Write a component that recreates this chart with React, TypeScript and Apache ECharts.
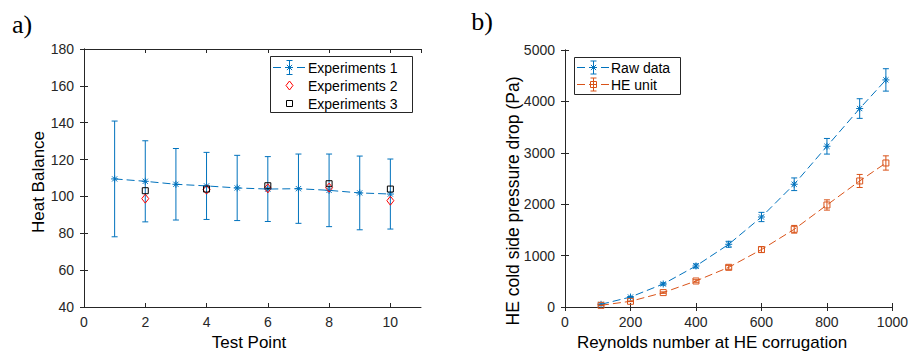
import React, { useEffect, useRef } from "react";
import * as echarts from "echarts";

// ---- Panel a) data ----
const testPoints = [1, 2, 3, 4, 5, 6, 7, 8, 9, 10];
const exp1Values = [109.5, 108.2, 106.6, 105.7, 104.6, 104.0, 104.2, 103.3, 101.9, 101.3];
const exp1Errors = [31.4, 22.0, 19.4, 18.2, 17.7, 17.6, 18.8, 19.7, 20.0, 19.0];
const exp23Points = [2, 4, 6, 8, 10];
const exp2Values = [98.8, 103.7, 104.4, 104.8, 97.7];
const exp3Values = [103.1, 104.0, 105.8, 106.9, 104.0];

// ---- Panel b) data ----
const reynolds = [110, 200, 300, 400, 500, 600, 700, 800, 900, 980];
const rawValues = [52, 194, 448, 798, 1220, 1751, 2388, 3127, 3861, 4418];
const rawErrors = [3, 10, 22, 40, 58, 90, 123, 152, 191, 218];
const heValues = [33, 111, 280, 506, 772, 1117, 1512, 1985, 2452, 2802];
const heErrors = [2, 6, 14, 25, 38, 55, 75, 100, 127, 139];

const BLUE = "#0072BD";
const ORANGE = "#D95319";
const AX = "#262626";
const SANS = "'Liberation Sans', Arial, Helvetica, sans-serif";
const SERIF = "'Liberation Serif', 'DejaVu Serif', serif";
const DASH = [8, 4];

function markerEls(kind: string, cx: number, cy: number, color: string): any[] {
  const st = { stroke: color, lineWidth: 1, fill: "none" };
  if (kind === "asterisk") {
    const r = 3.5;
    const d = 2.6;
    return [
      { type: "line", shape: { x1: cx - r, y1: cy, x2: cx + r, y2: cy }, style: st },
      { type: "line", shape: { x1: cx, y1: cy - r, x2: cx, y2: cy + r }, style: st },
      { type: "line", shape: { x1: cx - d, y1: cy - d, x2: cx + d, y2: cy + d }, style: st },
      { type: "line", shape: { x1: cx - d, y1: cy + d, x2: cx + d, y2: cy - d }, style: st },
    ];
  }
  if (kind === "square") {
    return [{ type: "rect", shape: { x: cx - 3, y: cy - 3, width: 6, height: 6 }, style: st }];
  }
  if (kind === "diamond") {
    return [
      {
        type: "polygon",
        shape: { points: [[cx, cy - 4.5], [cx + 3.5, cy], [cx, cy + 4.5], [cx - 3.5, cy]] },
        style: st,
      },
    ];
  }
  return [];
}

function errBarEls(cx: number, yt: number, yb: number, color: string, hw: number): any[] {
  const st = { stroke: color, lineWidth: 1 };
  return [
    { type: "line", shape: { x1: cx, y1: yt, x2: cx, y2: yb }, style: st },
    { type: "line", shape: { x1: cx - hw, y1: yt, x2: cx + hw, y2: yt }, style: st },
    { type: "line", shape: { x1: cx - hw, y1: yb, x2: cx + hw, y2: yb }, style: st },
  ];
}

function errRender(color: string, marker: string) {
  return (params: any, api: any) => {
    const x = api.value(0);
    const y = api.value(1);
    const e = api.value(2);
    const c = api.coord([x, y]);
    const t = api.coord([x, y + e]);
    const b = api.coord([x, y - e]);
    return {
      type: "group",
      children: [...errBarEls(c[0], t[1], b[1], color, 3), ...markerEls(marker, c[0], c[1], color)],
    };
  };
}

function markerRender(color: string, marker: string) {
  return (params: any, api: any) => {
    const c = api.coord([api.value(0), api.value(1)]);
    return { type: "group", children: markerEls(marker, c[0], c[1], color) };
  };
}

const axisLine = { show: true, lineStyle: { color: AX, width: 1 } };
const axisTick = { show: true, inside: true, length: 4, lineStyle: { color: AX, width: 1 } };
const labelStyle = { color: AX, fontSize: 14, fontFamily: SANS };

function xAxes(gridIndex: number, min: number, max: number, interval: number) {
  const common = {
    type: "value",
    gridIndex,
    min,
    max,
    interval,
    axisLine,
    axisTick,
    splitLine: { show: false },
  };
  return [
    {
      ...common,
      position: "bottom",
      axisLabel: {
        ...labelStyle,
        margin: 8,
        showMaxLabel: max % interval === 0,
        formatter: (v: number) => (v % interval === 0 ? String(v) : ""),
      },
    },
    { ...common, position: "top", axisLabel: { show: false } },
  ];
}

function yAxes(gridIndex: number, min: number, max: number, interval: number) {
  const common = {
    type: "value",
    gridIndex,
    min,
    max,
    interval,
    axisLine,
    axisTick,
    splitLine: { show: false },
  };
  return [
    {
      ...common,
      position: "left",
      axisLabel: { ...labelStyle, margin: 10, formatter: (v: number) => String(v) },
    },
    { ...common, position: "right", axisLabel: { show: false } },
  ];
}

function legendGraphics(): any[] {
  const els: any[] = [];
  const txt = (x: number, y: number, s: string) => ({
    type: "text",
    x,
    y,
    style: { text: s, fill: "#000", font: `14px ${SANS}`, textAlign: "left", textVerticalAlign: "middle" },
  });
  // left legend
  els.push({
    type: "rect",
    shape: { x: 270.5, y: 56.5, width: 142, height: 56 },
    style: { fill: "#fff", stroke: AX, lineWidth: 1 },
  });
  els.push({
    type: "line",
    shape: { x1: 273, y1: 67.5, x2: 306, y2: 67.5 },
    style: { stroke: BLUE, lineWidth: 1, lineDash: DASH },
  });
  els.push(...errBarEls(289.5, 60.5, 74.5, BLUE, 3));
  els.push(...markerEls("asterisk", 289.5, 67.5, BLUE));
  els.push(...markerEls("diamond", 289.5, 85.5, "#FF0000"));
  els.push(...markerEls("square", 289.5, 103.5, "#000"));
  els.push(txt(308, 67.5, "Experiments 1"));
  els.push(txt(308, 85.5, "Experiments 2"));
  els.push(txt(308, 103.5, "Experiments 3"));
  // right legend
  els.push({
    type: "rect",
    shape: { x: 574.5, y: 57.5, width: 106, height: 37 },
    style: { fill: "#fff", stroke: AX, lineWidth: 1 },
  });
  els.push({
    type: "line",
    shape: { x1: 577, y1: 67.5, x2: 610, y2: 67.5 },
    style: { stroke: BLUE, lineWidth: 1, lineDash: DASH },
  });
  els.push(...errBarEls(593.5, 61, 74, BLUE, 3));
  els.push(...markerEls("asterisk", 593.5, 67.5, BLUE));
  els.push({
    type: "line",
    shape: { x1: 577, y1: 84.5, x2: 610, y2: 84.5 },
    style: { stroke: ORANGE, lineWidth: 1, lineDash: DASH },
  });
  els.push(...errBarEls(593.5, 78, 91, ORANGE, 3));
  els.push(...markerEls("square", 593.5, 84.5, ORANGE));
  els.push(txt(611, 67.5, "Raw data"));
  els.push(txt(611, 84.5, "HE unit"));
  return els;
}

function titleGraphics(): any[] {
  const t = (x: number, y: number, s: string, font: string, rot = 0) => ({
    type: "text",
    x,
    y,
    rotation: rot,
    style: { text: s, fill: "#000", font, textAlign: "center", textVerticalAlign: "middle" },
  });
  const axFont = `17px ${SANS}`;
  return [
    t(22, 24, "a)", `26px ${SERIF}`),
    t(482, 21, "b)", `26px ${SERIF}`),
    t(249, 342, "Test Point", axFont),
    t(712, 342, "Reynolds number at HE corrugation", axFont),
    t(38, 182, "Heat Balance", axFont, Math.PI / 2),
    t(513, 201, "HE cold side pressure drop (Pa)", `17.5px ${SANS}`, Math.PI / 2),
  ];
}

export default function App() {
  const ref = useRef<HTMLDivElement>(null);
  useEffect(() => {
    if (!ref.current) return;
    const chart = echarts.init(ref.current, undefined, { renderer: "svg" });
    const exp1Line = testPoints.map((x, i) => [x, exp1Values[i]]);
    const exp1Err = testPoints.map((x, i) => [x, exp1Values[i], exp1Errors[i]]);
    const exp2 = exp23Points.map((x, i) => [x, exp2Values[i]]);
    const exp3 = exp23Points.map((x, i) => [x, exp3Values[i]]);
    const rawLine = reynolds.map((x, i) => [x, rawValues[i]]);
    const rawErr = reynolds.map((x, i) => [x, rawValues[i], rawErrors[i]]);
    const heLine = reynolds.map((x, i) => [x, heValues[i]]);
    const heErr = reynolds.map((x, i) => [x, heValues[i], heErrors[i]]);

    const dashed = (color: string) => ({ color, width: 1, type: DASH });

    chart.setOption({
      animation: false,
      backgroundColor: "#fff",
      grid: [
        { left: 84, top: 49, width: 337, height: 258 },
        { left: 565, top: 50, width: 329, height: 257 },
      ],
      xAxis: [...xAxes(0, 0, 11, 2), ...xAxes(1, 0, 1000, 200)],
      yAxis: [...yAxes(0, 40, 180, 20), ...yAxes(1, 0, 5000, 1000)],
      series: [
        {
          name: "Experiments 1",
          type: "line",
          xAxisIndex: 0,
          yAxisIndex: 0,
          data: exp1Line,
          symbol: "none",
          lineStyle: dashed(BLUE),
        },
        {
          name: "Experiments 1 error",
          type: "custom",
          xAxisIndex: 0,
          yAxisIndex: 0,
          data: exp1Err,
          renderItem: errRender(BLUE, "asterisk"),
        },
        {
          name: "Experiments 2",
          type: "custom",
          xAxisIndex: 0,
          yAxisIndex: 0,
          data: exp2,
          renderItem: markerRender("#FF0000", "diamond"),
        },
        {
          name: "Experiments 3",
          type: "custom",
          xAxisIndex: 0,
          yAxisIndex: 0,
          data: exp3,
          renderItem: markerRender("#000", "square"),
        },
        {
          name: "Raw data",
          type: "line",
          xAxisIndex: 2,
          yAxisIndex: 2,
          data: rawLine,
          symbol: "none",
          lineStyle: dashed(BLUE),
        },
        {
          name: "Raw data error",
          type: "custom",
          xAxisIndex: 2,
          yAxisIndex: 2,
          data: rawErr,
          renderItem: errRender(BLUE, "asterisk"),
        },
        {
          name: "HE unit",
          type: "line",
          xAxisIndex: 2,
          yAxisIndex: 2,
          data: heLine,
          symbol: "none",
          lineStyle: dashed(ORANGE),
        },
        {
          name: "HE unit error",
          type: "custom",
          xAxisIndex: 2,
          yAxisIndex: 2,
          data: heErr,
          renderItem: errRender(ORANGE, "square"),
        },
      ],
      graphic: [...legendGraphics(), ...titleGraphics()],
    });
    return () => chart.dispose();
  }, []);
  return (
    <div
      ref={ref}
      style={{ position: "fixed", left: 0, top: 0, width: 911, height: 359, background: "#fff" }}
    />
  );
}
